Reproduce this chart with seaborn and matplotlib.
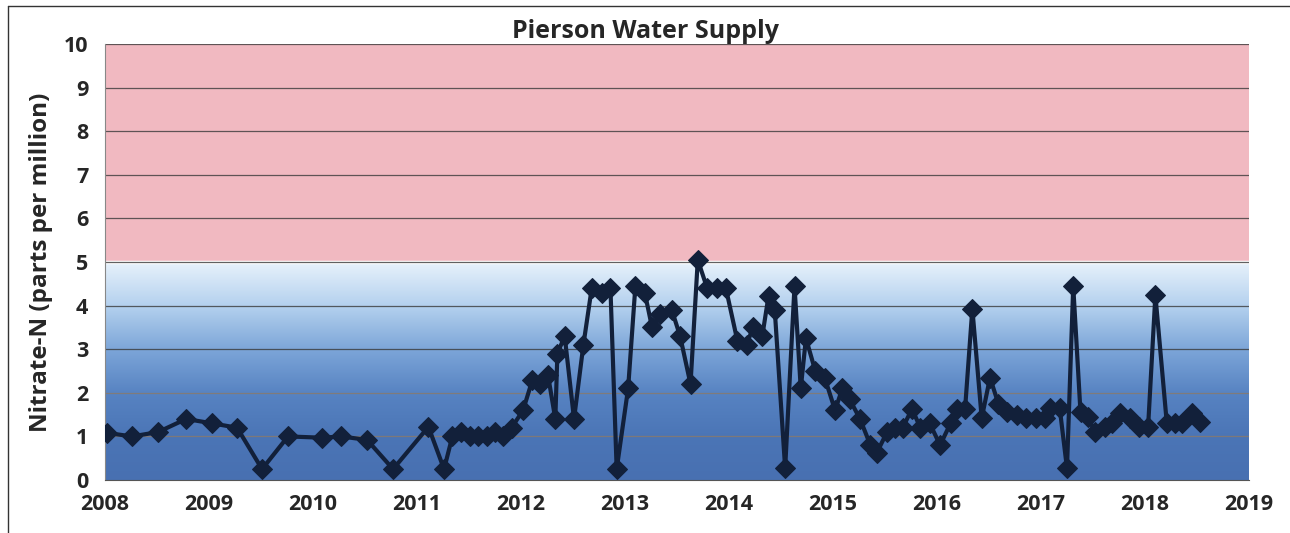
import numpy as np
import pandas as pd
import matplotlib.pyplot as plt
import seaborn as sns
from matplotlib.colors import LinearSegmentedColormap
from matplotlib.lines import Line2D

sns.set_style('white')
plt.rcParams['font.family'] = ['Open Sans', 'DejaVu Sans']

# sample dates (decimal years) and nitrate-N readings (ppm)
dates = [2008.02, 2008.26, 2008.51, 2008.78, 2009.03, 2009.27, 2009.51, 2009.76,
         2010.09, 2010.27, 2010.52, 2010.77, 2011.11, 2011.26, 2011.34, 2011.42,
         2011.51, 2011.59, 2011.67, 2011.75, 2011.83, 2011.91, 2012.02, 2012.11,
         2012.18, 2012.26, 2012.33, 2012.35, 2012.42, 2012.51, 2012.60, 2012.68,
         2012.78, 2012.86, 2012.92, 2013.03, 2013.10, 2013.19, 2013.26, 2013.34,
         2013.45, 2013.53, 2013.63, 2013.70, 2013.79, 2013.88, 2013.97, 2014.08,
         2014.17, 2014.23, 2014.32, 2014.38, 2014.44, 2014.54, 2014.63, 2014.69,
         2014.74, 2014.83, 2014.92, 2015.02, 2015.09, 2015.16, 2015.26, 2015.36,
         2015.42, 2015.52, 2015.60, 2015.67, 2015.76, 2015.84, 2015.93, 2016.03,
         2016.13, 2016.19, 2016.27, 2016.34, 2016.43, 2016.51, 2016.59, 2016.67,
         2016.77, 2016.86, 2016.95, 2017.04, 2017.09, 2017.18, 2017.25, 2017.31,
         2017.38, 2017.45, 2017.52, 2017.62, 2017.68, 2017.76, 2017.86, 2017.94,
         2018.03, 2018.10, 2018.21, 2018.29, 2018.36, 2018.45, 2018.53]
nitrate = [1.08, 1.0, 1.1, 1.4, 1.3, 1.2, 0.25, 1.0,
           0.97, 1.0, 0.92, 0.25, 1.22, 0.25, 1.0, 1.1,
           1.0, 1.0, 1.0, 1.1, 1.0, 1.2, 1.6, 2.3,
           2.2, 2.4, 1.4, 2.9, 3.3, 1.4, 3.1, 4.4,
           4.3, 4.4, 0.25, 2.1, 4.45, 4.3, 3.5, 3.8,
           3.9, 3.3, 2.2, 5.05, 4.4, 4.4, 4.4, 3.2,
           3.1, 3.5, 3.3, 4.22, 3.9, 0.27, 4.45, 2.1,
           3.25, 2.5, 2.35, 1.6, 2.1, 1.85, 1.4, 0.8,
           0.62, 1.1, 1.2, 1.2, 1.63, 1.2, 1.3, 0.8,
           1.3, 1.63, 1.63, 3.93, 1.42, 2.35, 1.75, 1.55,
           1.5, 1.42, 1.42, 1.42, 1.65, 1.65, 0.27, 4.45,
           1.55, 1.45, 1.1, 1.22, 1.3, 1.53, 1.42, 1.22,
           1.22, 4.24, 1.3, 1.3, 1.3, 1.53, 1.33]

year_ticks = list(range(2008, 2020))
ppm_ticks = list(range(0, 11))
limit = 5

df = pd.DataFrame({'Date': dates, 'Nitrate': nitrate})

fig = plt.figure(figsize=(12.9, 5.33), dpi=100)
ax = fig.add_axes([0.0814, 0.0994, 0.8868, 0.818])

# background bands: pink above the limit, blue gradient below
ax.axhspan(limit, 10, color='#f1b9c1', zorder=0, lw=0)
blues = LinearSegmentedColormap.from_list(
    'bg', ['#4870b1', '#4b75b6', '#5783c2', '#7ca5d8', '#b3d0ee', '#e6f1fb'])
grad = np.linspace(0, 1, 256).reshape(-1, 1)
ax.imshow(grad, cmap=blues, aspect='auto', origin='lower',
          extent=[year_ticks[0], year_ticks[-1], 0, limit - 0.04], zorder=0.5)
ax.axhline(limit, color='white', lw=2.5, zorder=0.8)

for v in ppm_ticks[1:]:
    c = '#8a7a6a' if v < 3 else '#3a3a3a'
    ax.axhline(v, color=c, lw=0.9, alpha=0.8, zorder=1)

sns.lineplot(data=df, x='Date', y='Nitrate', ax=ax, color='#12203a',
             lw=3, marker='D', markersize=10.5, markeredgecolor='#12203a',
             zorder=3)

ax.set_xlim(year_ticks[0], year_ticks[-1])
ax.set_ylim(0, 10)
ax.set_xticks(year_ticks)
ax.set_yticks(ppm_ticks)
ax.tick_params(axis='both', direction='out', length=8, width=1, color='#555555',
               labelsize=15.5)
for lab in ax.get_xticklabels() + ax.get_yticklabels():
    lab.set_fontweight('bold')
ax.tick_params(axis='x', pad=2)
ax.tick_params(axis='y', pad=4)

for s in ['top', 'right']:
    ax.spines[s].set_visible(False)
ax.spines['left'].set_color('#888888')
ax.spines['bottom'].set_color('#555555')

ax.set_xlabel('')
ax.set_ylabel('Nitrate-N (parts per million)', fontsize=17.5, fontweight='bold',
              labelpad=8)
fig.text(0.5, 0.94, 'Pierson Water Supply', ha='center', va='center',
         fontsize=18, fontweight='bold')

# outer chart frame: only the top and left edges show in the image
fx, fy = 8 / 1290, 1 - 6 / 533
fig.add_artist(Line2D([fx, 1.0], [fy, fy], transform=fig.transFigure,
                      color='#333333', lw=1))
fig.add_artist(Line2D([fx, fx], [0.0, fy], transform=fig.transFigure,
                      color='#333333', lw=1))

fig.savefig('out.png', dpi=100)
